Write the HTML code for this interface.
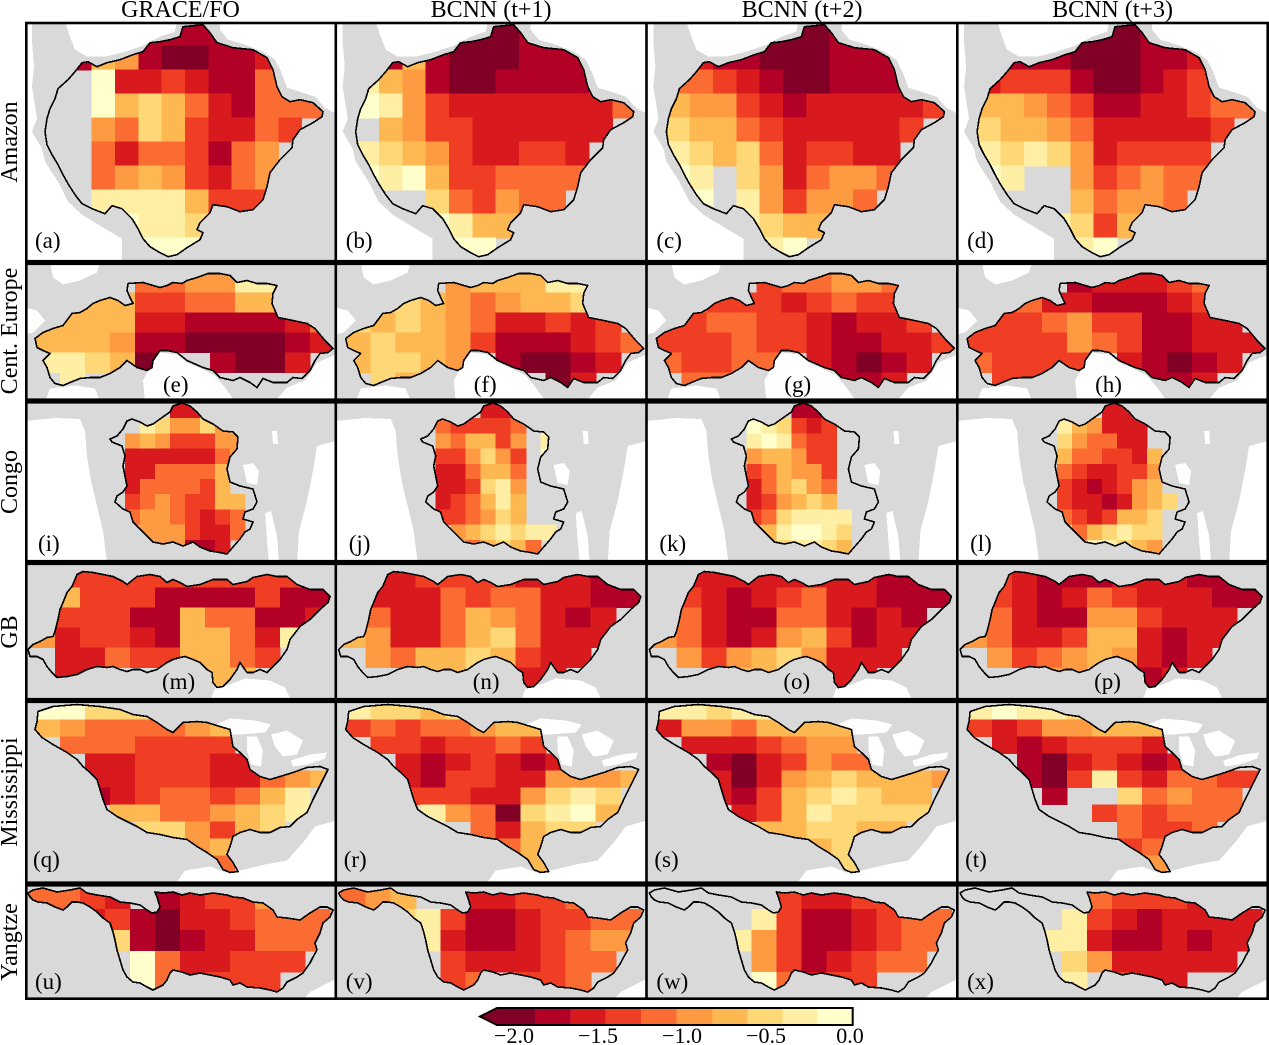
<!DOCTYPE html>
<html><head><meta charset="utf-8"><style>
html,body{margin:0;padding:0;background:#fff;}
#wrap{position:relative;width:1269px;height:1045px;overflow:hidden;}
#maps,#ov{position:absolute;left:0;top:0;}
text{font-family:"Liberation Serif",serif;}
</style></head><body>
<div id="wrap">
<div id="maps"></div>
<svg id="ov" width="1269" height="1045" xmlns="http://www.w3.org/2000/svg">
<g font-size="24" text-anchor="middle" fill="#000">
<text x="180.5" y="17">GRACE/FO</text>
<text x="491" y="17">BCNN (t+1)</text>
<text x="802" y="17">BCNN (t+2)</text>
<text x="1112.5" y="17">BCNN (t+3)</text>
<text transform="translate(17,142) rotate(-90)">Amazon</text>
<text transform="translate(17,331) rotate(-90)">Cent. Europe</text>
<text transform="translate(17,482) rotate(-90)">Congo</text>
<text transform="translate(17,632) rotate(-90)">GB</text>
<text transform="translate(17,792) rotate(-90)">Mississippi</text>
<text transform="translate(17,942) rotate(-90)">Yangtze</text>
</g>
<g font-size="23" fill="#000">
<text x="35" y="248">(a)</text><text x="345.7" y="248">(b)</text><text x="656.4" y="248">(c)</text><text x="967.1" y="248">(d)</text>
<text x="163" y="392">(e)</text><text x="473.7" y="392">(f)</text><text x="784.4" y="392">(g)</text><text x="1095.1" y="392">(h)</text>
<text x="38" y="551">(i)</text><text x="348.7" y="551">(j)</text><text x="659.4" y="551">(k)</text><text x="970.1" y="551">(l)</text>
<text x="162" y="689">(m)</text><text x="472.7" y="689">(n)</text><text x="783.4" y="689">(o)</text><text x="1094.1" y="689">(p)</text>
<text x="33" y="867">(q)</text><text x="343.7" y="867">(r)</text><text x="654.4" y="867">(s)</text><text x="965.1" y="867">(t)</text>
<text x="35" y="989">(u)</text><text x="345.7" y="989">(v)</text><text x="656.4" y="989">(w)</text><text x="967.1" y="989">(x)</text>
</g>
<g fill="none" stroke="#000" stroke-width="2.6">
<rect x="26.3" y="23" width="1241.4" height="238.2"/>
<rect x="26.3" y="263.8" width="1241.4" height="135.9"/>
<rect x="26.3" y="402.3" width="1241.4" height="158.9"/>
<rect x="26.3" y="563.8" width="1241.4" height="135.4"/>
<rect x="26.3" y="701.8" width="1241.4" height="180.9"/>
<rect x="26.3" y="885.3" width="1241.4" height="113.4"/>
<line x1="335.8" y1="22" x2="335.8" y2="1000"/>
<line x1="646.5" y1="22" x2="646.5" y2="1000"/>
<line x1="957.3" y1="22" x2="957.3" y2="1000"/>
</g>
<g>
<polygon points="480,1016.5 497,1008 535,1008 535,1025 497,1025" fill="#800026"/>
<rect x="535" y="1008" width="35.9" height="17" fill="#b30026"/>
<rect x="570.7" y="1008" width="35.2" height="17" fill="#d81a1e"/>
<rect x="605.7" y="1008" width="35.5" height="17" fill="#f03e25"/>
<rect x="641" y="1008" width="35.9" height="17" fill="#fb6c33"/>
<rect x="676.7" y="1008" width="35.8" height="17" fill="#fd9a42"/>
<rect x="712.3" y="1008" width="35.2" height="17" fill="#feb851"/>
<rect x="747.3" y="1008" width="35.6" height="17" fill="#fed877"/>
<rect x="782.7" y="1008" width="34.8" height="17" fill="#ffefa5"/>
<rect x="817.3" y="1008" width="35.4" height="17" fill="#ffffcc"/>
<path d="M480,1016.5 L497,1008 L852.7,1008 L852.7,1025 L497,1025 Z" fill="none" stroke="#000" stroke-width="2"/>
</g>
<g font-size="22" text-anchor="middle" fill="#000">
<text x="514" y="1043">−2.0</text>
<text x="598" y="1043">−1.5</text>
<text x="682" y="1043">−1.0</text>
<text x="766" y="1043">−0.5</text>
<text x="850" y="1043">0.0</text>
</g>
</svg>
</div>
<script>
(function(){
var PAL=['#800026','#b30026','#d81a1e','#f03e25','#fb6c33','#fd9a42','#feb851','#fed877','#ffefa5','#ffffcc'];
var CX=[25,335.7,646.4,957.1],W=310.7;
var RW=[
{t:21.7,h:240.8,g:[20,0,23.33,24],
o:"158,5 178,3 185,11 192,21 208,26 228,28 242,36 248,48 252,65 257,75 265,80 275,78 288,81 298,90 297,95 288,101 275,108 268,118 267,126 262,131 255,138 245,151 242,165 238,178 228,188 215,190 202,185 188,183 185,191 175,201 172,208 178,211 175,218 162,226 152,233 143,235 135,231 125,225 118,217 113,207 107,197 97,187 87,184 80,192 67,187 57,182 50,173 43,162 38,153 33,143 27,133 22,123 20,110 22,97 25,87 30,77 33,67 43,58 50,50 57,41 63,40 72,45 82,41 95,38 108,33 118,30 125,21 135,20 145,18 155,15 157,8",
w:["0,0 7,0 7,20 9,45 7,65 12,97 7,110 17,127 20,140 33,160 43,180 57,193 80,207 97,217 97,241 0,241","40,0 152,0 150,10 135,15 118,24 100,30 80,35 62,35 50,28 45,15","195,0 311,0 311,92 300,86 290,75 275,70 262,66 256,50 250,38 238,30 220,23 203,18 195,8"],
p:[["xxxx1111xxxx","x165100112xx","xx92232114xx","xx9676421444","xx547632243x","xx42443145xx","xx45653245xx","xx88886333xx","xxx9887xxxxx","xxxx999xxxxx"],
["xxxx0001xxxx","x161000111xx","8651001111xx","985322222224","x6533222222x","8765322332xx","9896334444xx","xxx743544xxx","xxx9866xxxxx","xxxx99xxxxxx"],
["xxxx0001xxxx","x211000111xx","4432100111xx","655321222223","76643222223x","8767423322xx","98x7524554xx","x9x853554xxx","xxx8766xxxxx","xxxx89xxxxxx"],
["xxxx0001xxxx","x111000112xx","2333100123xx","665431122344","76654222223x","8787523333xx","98xx534544xx","xxxx64554xxx","xxx8736xxxxx","xxxx89xxxxxx"]]},
{t:262.5,h:138.5,g:[10,10,25,20],
o:"10,76 18,70 28,66 38,63 47,51 55,50 62,46 68,41 75,38 85,35 93,38 100,43 108,41 105,35 102,28 103,21 118,20 135,25 142,23 148,20 157,21 162,18 172,15 183,11 195,11 205,13 212,20 222,18 232,21 242,21 252,23 248,31 247,41 253,55 268,58 282,61 290,66 300,78 308,86 303,90 295,91 290,98 285,108 277,116 268,115 262,120 248,120 238,116 232,125 225,120 215,115 208,118 195,115 188,108 178,105 162,98 152,90 142,88 135,88 128,98 127,105 122,108 112,105 102,98 95,105 85,111 75,115 65,115 55,116 45,120 38,123 30,121 25,115 22,105 18,98 25,91 18,88 12,85",
w:["25,0 75,0 72,10 55,18 38,22 28,15","0,45 12,48 20,58 8,70 0,72","128,100 135,90 152,92 162,100 178,107 190,113 200,125 210,139 120,139 118,118","262,125 280,118 292,100 311,92 311,139 250,139","25,126 50,123 70,126 75,139 20,139"],
p:[["xxxx445588xx","x666334466xx","666622111124","666511000012","88760xx1002x","x8xxxxxxxxxx"],
["xxxx566688xx","x776545667xx","76765422323x","676653111234","67765x10012x","x76xxxxx02xx"],
["xxxx344554xx","x433323433xx","33443321223x","333433211223","43344x21012x","x44xxxx112xx"],
["xxxx122234xx","x342211123xx","33345331122x","333354311222","43333x21012x","x33xxxx112xx"]]},
{t:401,h:161.5,g:[85,2,15,15.2],
o:"148,5 157,2 165,5 172,11 178,18 188,23 198,30 208,31 213,36 212,48 205,56 202,68 205,81 215,85 228,88 232,101 228,108 220,111 218,118 228,121 225,128 220,131 215,138 208,146 202,153 192,151 185,150 175,146 168,141 158,145 148,141 138,143 128,141 122,135 115,128 108,121 105,111 98,108 90,101 92,95 98,91 102,85 100,75 98,65 100,55 97,45 87,41 85,38 92,35 98,28 102,20 107,18 115,21 122,25 128,23 135,18 145,11",
w:["0,20 30,17 55,18 60,30 62,55 66,80 72,105 78,130 82,162 0,162","218,64 228,62 234,70 232,84 222,82","240,112 246,110 252,135 254,162 244,162 242,140","247,30 252,30 253,43 248,43","292,45 311,40 311,162 272,162 274,130 282,100 288,70"],
p:[["xxxx22xxxx","xx875575xx","x56533355x","x22222245x","x2244446xx","x2444436xx","x34543366x","x45543234x","xx5553224x","xxx55112xx"],
["xxxx22xxxx","x433334xxx","x546635x8x","x335753x9x","x224664x9x","x223785xxx","x234686xxx","x334576xxx","xx5678788x","xxx46764xx"],
["xxxx11xxxx","x987323xxx","x898433xxx","x566533xxx","x346553x8x","x246754xxx","x235676xxx","x3478888xx","xx689987xx","xxx78876xx"],
["xxxx22xxxx","x865222xxx","x754422xxx","x6443326xx","x4322335xx","x3212356xx","x32212567x","x4323667xx","xx467877xx","xxx88765xx"]]},
{t:562.5,h:138,g:[5,5,25,20],
o:"3,87 8,82 15,79 22,75 28,74 30,69 33,57 35,47 38,40 42,30 47,24 50,17 52,12 58,9 68,10 78,12 88,14 98,19 102,22 112,14 125,12 135,14 142,20 148,17 155,20 162,24 175,22 188,17 202,17 208,22 222,19 228,15 242,12 252,14 262,14 272,22 285,27 298,27 305,34 303,40 295,47 285,57 275,64 265,77 262,87 255,97 248,104 242,110 235,107 228,110 222,110 215,100 212,107 205,117 198,124 192,125 188,120 187,110 182,107 175,100 168,97 160,94 155,95 148,97 142,100 132,107 122,110 115,107 108,107 102,109 95,107 88,104 82,105 72,104 62,107 52,112 42,114 32,115 27,110 22,104 18,97 12,94 5,94",
w:["190,126 205,122 220,116 245,118 260,125 266,138 185,138"],
p:[["x33333333333","x63331111311","x33311644112","52332166428x","x224336643xx","x22xxxx66xxx"],
["x22333322212","x22243442211","x4224654212x","65224674222x","x546676322xx","xxx66xx22xxx"],
["x22222222111","x32123422111","x4211442121x","54212563122x","x535675222xx","xxx66xx22xxx"],
["x32111222111","x32124322211","x4211553222x","54223662122x","x534565212xx","xxx55xx12xxx"]]},
{t:700.5,h:183.5,g:[10,2,25,17],
o:"13,11 28,6 52,4 75,6 95,9 108,14 122,16 132,22 142,29 148,32 158,22 172,21 182,22 195,26 205,29 208,46 215,52 222,59 225,69 235,76 245,79 255,76 268,72 282,67 295,66 303,69 298,79 293,89 288,99 282,112 272,119 265,126 255,127 245,132 235,132 225,129 215,132 208,136 205,146 202,154 208,162 213,171 205,172 198,169 192,159 182,152 172,146 162,139 148,137 135,134 122,132 112,126 102,121 92,116 82,109 78,99 75,89 72,79 65,72 58,66 52,59 42,52 28,44 17,37 10,29 12,21",
w:["150,184 160,170 185,166 200,172 215,170 240,164 262,160 278,142 290,126 311,120 311,184","186,26 205,18 230,20 246,24 240,32 215,34 198,34","222,36 232,36 238,50 236,66 226,64 222,50","246,34 262,30 278,40 272,54 258,56 250,46","266,60 285,54 302,52 300,58 282,64 268,66"],
p:[["99777xxxxxxx","654444566xxx","x4443333xxxx","xx2233322xxx","xx2233322456","xx123443468x","xxx66445678x","xxxx775367xx","xxxxxx56xxxx","xxxxxxx4xxxx"],
["87767xxxxxxx","34344566xxxx","x3323343xxxx","xx2123212xxx","xx2133225556","xx333225787x","xxx85407896x","xxxxx42677xx","xxxxxx46xxxx","xxxxxxx6xxxx"],
["88788xxxxxxx","25546666xxxx","x2223455xxxx","xx1023544xxx","xx2025676665","xx213678766x","xxx23687777x","xxxx667766xx","xxxxxx67xxxx","xxxxxxx7xxxx"],
["89887xxxxxxx","32355666xxxx","x2123332xxxx","xx1023212xxx","xx1038324433","xxx1xx74544x","xxxxx343444x","xxxxxx4334xx","xxxxxx34xxxx","xxxxxxx5xxxx"]]},
{t:884,h:116,g:[5,4,25,21],
o:"3,9 8,6 18,4 32,8 45,6 55,4 62,9 72,11 85,13 95,18 105,19 115,21 122,26 127,29 132,28 135,23 132,13 130,8 138,9 148,8 157,11 165,9 175,11 188,9 202,11 208,13 218,14 228,18 238,19 248,26 252,33 262,34 275,36 285,29 295,23 302,23 308,26 305,33 298,39 295,49 290,59 292,66 288,73 285,79 278,89 272,93 262,98 258,104 252,108 245,106 235,104 222,103 215,99 208,101 205,96 195,93 185,91 175,89 165,91 157,88 148,86 145,89 142,96 138,101 128,106 122,103 115,99 108,98 102,93 98,86 95,76 92,66 90,56 88,48 85,39 78,34 72,28 65,23 58,19 52,18 47,18 42,23 38,26 30,23 22,19 13,18 8,16 5,13",
w:["285,108 311,95 311,116 278,116"],
p:[["4432x12335xx","xx2310223444","xxx710122444","xxxx9422333x","xxxx942333xx"],
["456xx22334xx","xx7831123344","xxx821123455","xxxx3222344x","xxxx34x334xx"],
["xxxxx32233xx","xxxx83112344","xxx853112344","xxxx5312344x","xxxx94233xxx"],
["xxxxx43332xx","xxxx83212222","xxx882112122","xxxx7522222x","xxxx8x322xxx"]]}
];
var defs='',body='';
RW.forEach(function(r,i){
 defs+='<clipPath id="o'+i+'"><polygon points="'+r.o+'"/></clipPath><clipPath id="f'+i+'"><rect x="0" y="0" width="'+W+'" height="'+r.h+'"/></clipPath>';
 r.p.forEach(function(rows,c){
  var cells='';
  rows.forEach(function(s,j){
   for(var k=0;k<s.length;k++){var ch=s.charAt(k);if(ch!=='x'){
    cells+='<rect x="'+(r.g[0]+k*r.g[2]).toFixed(1)+'" y="'+(r.g[1]+j*r.g[3]).toFixed(1)+'" width="'+(r.g[2]+0.6).toFixed(1)+'" height="'+(r.g[3]+0.6).toFixed(1)+'" fill="'+PAL[+ch]+'"/>';}}
  });
  var wh='';r.w.forEach(function(p){wh+='<polygon points="'+p+'" fill="#fff"/>';});
  body+='<g transform="translate('+CX[c]+','+r.t+')"><g clip-path="url(#f'+i+')"><rect x="0" y="0" width="'+W+'" height="'+r.h+'" fill="#d9d9d9"/>'+wh+'<g clip-path="url(#o'+i+')">'+cells+'</g><polygon points="'+r.o+'" fill="none" stroke="#000" stroke-width="1.6" stroke-linejoin="round"/></g></g>';
 });
});
document.getElementById('maps').innerHTML='<svg width="1269" height="1045" xmlns="http://www.w3.org/2000/svg" shape-rendering="crispEdges"><defs>'+defs+'</defs>'+body+'</svg>';
})();
</script>
</body></html>
